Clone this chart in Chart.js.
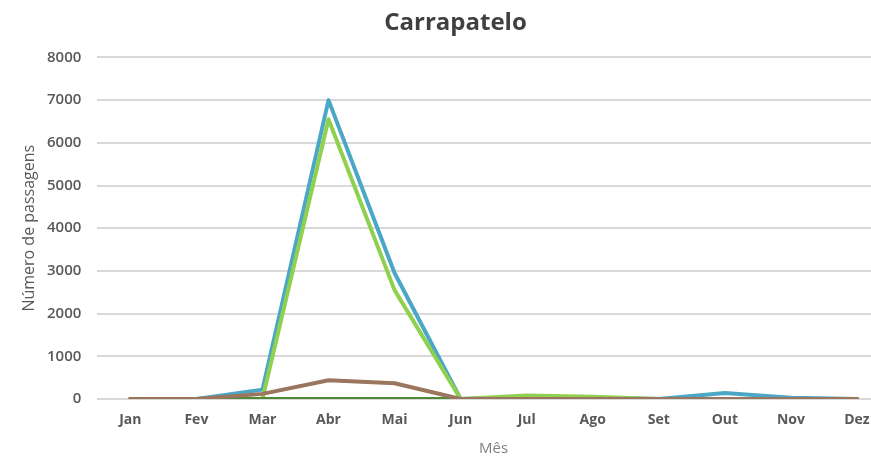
<!DOCTYPE html>
<html>
<head>
<meta charset="utf-8">
<script src="https://cdn.jsdelivr.net/npm/chart.js@4.4.1/dist/chart.umd.min.js"></script>
<style>
  html, body { margin: 0; padding: 0; background: #fff; overflow: hidden; }
  #wrap { width: 890px; height: 461px; }
</style>
</head>
<body>
<div id="wrap"><canvas id="myChart" width="890" height="461"></canvas></div>
<script>
const months = ["Jan", "Fev", "Mar", "Abr", "Mai", "Jun", "Jul", "Ago", "Set", "Out", "Nov", "Dez"];

// series (no legend in the original)
const blueSeries = [0, 0, 220, 7000, 2950, 0, 40, 30, 0, 140, 30, 0];
const greenSeries = [0, 0, 0, 6550, 2550, 0, 80, 50, 0, 0, 0, 0];
const brownSeries = [0, 0, 120, 440, 370, 0, 0, 0, 0, 0, 0, 0];
const darkGreenSeries = [0, 0, 0, 0, 0, 0, 0, 0, 0, 0, 0, 0];

const yTicks = [0, 1000, 2000, 3000, 4000, 5000, 6000, 7000, 8000];

const lineOpts = {
  fill: false,
  tension: 0,
  pointRadius: 0,
  borderWidth: 4,
  borderJoinStyle: "round",
  borderCapStyle: "round",
};

const ctx = document.getElementById("myChart").getContext("2d");
new Chart(ctx, {
  type: "line",
  data: {
    labels: months,
    datasets: [
      { label: "Série 3", data: brownSeries, borderColor: "#9B765F", ...lineOpts },
      { label: "Série 4", data: darkGreenSeries, borderColor: "#4E8A35", ...lineOpts },
      { label: "Série 2", data: greenSeries, borderColor: "#8FD14F", ...lineOpts },
      { label: "Série 1", data: blueSeries, borderColor: "#4BA7C5", ...lineOpts },
    ],
  },
  options: {
    responsive: false,
    animation: false,
    layout: { padding: { left: 21, right: 0, top: 10, bottom: 5 } },
    plugins: {
      legend: { display: false },
      tooltip: { enabled: false },
      title: {
        display: true,
        text: "Carrapatelo",
        color: "#404040",
        font: { family: "'Open Sans', sans-serif", size: 24, weight: "bold", lineHeight: 1.1 },
        padding: { top: 0, bottom: 21 },
      },
    },
    scales: {
      x: {
        offset: true,
        grid: { display: false, drawTicks: false },
        border: { display: false },
        ticks: {
          color: "#595959",
          padding: 14,
          font: { family: "'Open Sans', sans-serif", size: 14, weight: "bold", lineHeight: 1 },
        },
        title: {
          display: true,
          text: "Mês",
          color: "#7f7f7f",
          padding: { top: 0, bottom: 0 },
          font: { family: "'Open Sans', sans-serif", size: 15, lineHeight: 1 },
        },
      },
      y: {
        min: 0,
        max: 8000,
        afterBuildTicks(axis) {
          axis.ticks = yTicks.map(v => ({ value: v }));
        },
        grid: { color: "#d9d9d9", lineWidth: 2, drawTicks: false },
        border: { display: false },
        ticks: {
          color: "#595959",
          padding: 16,
          font: { family: "'Open Sans', sans-serif", size: 15, weight: "600" },
          callback: v => String(v),
        },
        title: {
          display: true,
          text: "Número de passagens",
          color: "#595959",
          padding: { top: 0, bottom: -6 },
          font: { family: "'Open Sans', sans-serif", size: 16, lineHeight: 1 },
        },
      },
    },
  },
});
</script>
</body>
</html>
